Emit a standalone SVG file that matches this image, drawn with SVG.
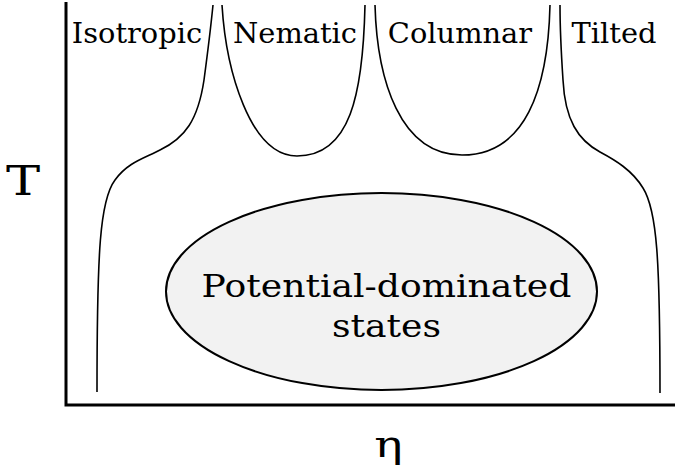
<svg xmlns="http://www.w3.org/2000/svg" width="675" height="476" viewBox="0 0 675 476">
<style>
.lbl{font-family:"DejaVu Serif",serif;fill:#000;text-anchor:middle}
.top{font-size:27.5px}
.big{font-size:32px}
.curve{fill:none;stroke:#000;stroke-width:1.6}
.axis{fill:none;stroke:#000;stroke-width:3}
</style>
<rect width="675" height="476" fill="#fff"/>
<g id="axes">
<path class="axis" d="M66,2 V405 H675"/>
<text class="lbl" font-size="41" transform="translate(23,195) scale(1.25,1)">T</text>
<text class="lbl" font-size="38" transform="translate(388.5,457) scale(1.25,1)">η</text>
</g>
<g id="connectors">
<path class="curve" d="M97,392 C97,250 100,200 115,180 C128,162 145,158 160,150 C185,138 198,120 204,80 C208,50 211,25 213,5"/>
<path class="curve" d="M222,5 C226,70 250,156 297,156 C350,156 363,95 365,5"/>
<path class="curve" d="M375,5 C377,80 400,155 462,155 C525,155 548,90 550,5"/>
<path class="curve" d="M660,393 C660,260 657,210 643,188 C632,170 615,160 600,152 C578,140 565,120 563,80 C561,50 560,25 560,5"/>
</g>
<g id="isotropic"><text class="lbl top" transform="translate(137,43) scale(1.05,1)">Isotropic</text></g>
<g id="nematic"><text class="lbl top" transform="translate(295,43) scale(1.05,1)">Nematic</text></g>
<g id="columnar"><text class="lbl top" transform="translate(460,43) scale(1.05,1)">Columnar</text></g>
<g id="tilted"><text class="lbl top" transform="translate(614,43) scale(1.05,1)">Tilted</text></g>
<g id="potential">
<ellipse cx="381.5" cy="291.5" rx="215.5" ry="98.5" fill="#f2f2f2" stroke="#000" stroke-width="2"/>
<text class="lbl big" transform="translate(386.5,297) scale(1.13,1)">Potential-dominated</text>
<text class="lbl big" transform="translate(386.5,337) scale(1.13,1)">states</text>
</g>
</svg>
